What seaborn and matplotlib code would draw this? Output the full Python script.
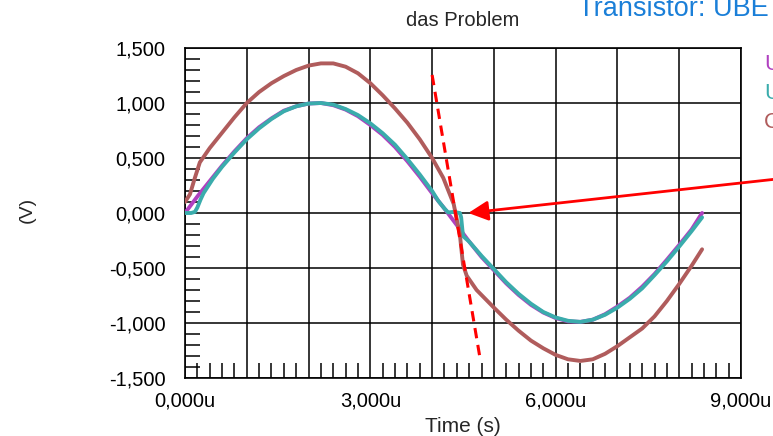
import numpy as np
import pandas as pd
import seaborn as sns
import matplotlib
matplotlib.use('Agg')
import matplotlib.pyplot as plt
from matplotlib.ticker import MultipleLocator, FuncFormatter

# time axis in units of 1000u (label "3,000u" == 3.0)
t_purple = [0.0, 0.2, 0.4, 0.6, 0.8, 1.0, 1.2, 1.4, 1.6, 1.8, 2.0, 2.2, 2.4, 2.6,
            2.8, 3.0, 3.2, 3.4, 3.6, 3.8, 4.0, 4.2, 4.4, 4.6, 4.8, 5.0, 5.2, 5.4,
            5.6, 5.8, 6.0, 6.2, 6.4, 6.6, 6.8, 7.0, 7.2, 7.4, 7.6, 7.8, 8.0, 8.2, 8.37]
v_purple = [0.0, 0.15, 0.29, 0.43, 0.56, 0.68, 0.78, 0.86, 0.93, 0.97, 0.995, 1.0,
            0.98, 0.94, 0.88, 0.80, 0.71, 0.60, 0.47, 0.33, 0.18, 0.04, -0.11, -0.26,
            -0.40, -0.52, -0.64, -0.745, -0.835, -0.905, -0.955, -0.985, -0.99, -0.97,
            -0.92, -0.85, -0.77, -0.67, -0.555, -0.425, -0.29, -0.15, 0.0]

t_teal = [0.0, 0.1, 0.16, 0.2, 0.25, 0.3, 0.45, 0.6, 0.8, 1.0, 1.2, 1.4, 1.6, 1.8,
          2.0, 2.2, 2.4, 2.6, 2.8, 3.0, 3.2, 3.4, 3.6, 3.8, 4.0, 4.1, 4.2, 4.26, 4.35,
          4.45, 4.47, 4.5, 4.6, 4.7, 4.8, 5.0, 5.2, 5.4, 5.6, 5.8, 6.0, 6.2, 6.4, 6.6,
          6.8, 7.0, 7.2, 7.4, 7.6, 7.8, 8.0, 8.2, 8.37]
v_teal = [0.0, 0.0, 0.01, 0.05, 0.12, 0.18, 0.31, 0.42, 0.55, 0.67, 0.77, 0.855,
          0.925, 0.97, 0.995, 1.0, 0.985, 0.945, 0.89, 0.815, 0.725, 0.62, 0.49, 0.35,
          0.2, 0.11, 0.04, 0.005, 0.01, 0.0, -0.04, -0.21, -0.26, -0.325, -0.39, -0.51,
          -0.63, -0.735, -0.825, -0.9, -0.95, -0.98, -0.99, -0.97, -0.925, -0.86,
          -0.78, -0.685, -0.565, -0.44, -0.305, -0.165, -0.04]

t_brown = [0.0, 0.08, 0.16, 0.24, 0.4, 0.6, 0.8, 1.0, 1.2, 1.4, 1.6, 1.8, 2.0, 2.2,
           2.4, 2.6, 2.8, 3.0, 3.2, 3.4, 3.6, 3.8, 4.0, 4.18, 4.35, 4.45, 4.5, 4.56,
           4.72, 5.0, 5.2, 5.4, 5.6, 5.8, 6.0, 6.2, 6.4, 6.6, 6.8, 7.0, 7.2, 7.4, 7.6,
           7.8, 8.0, 8.2, 8.37]
v_brown = [0.10, 0.17, 0.32, 0.46, 0.59, 0.73, 0.87, 1.0, 1.10, 1.18, 1.245, 1.30,
           1.34, 1.36, 1.36, 1.33, 1.27, 1.18, 1.07, 0.95, 0.82, 0.67, 0.50, 0.32,
           0.08, -0.2, -0.47, -0.57, -0.70, -0.86, -0.97, -1.07, -1.16, -1.23, -1.29,
           -1.33, -1.345, -1.33, -1.28, -1.21, -1.13, -1.05, -0.94, -0.80, -0.645,
           -0.48, -0.33]

legend_labels = ['UB', 'UBE', 'CE']
colors = ['#b040c0', '#3aacac', '#b05c5c']

# annotation line / arrow endpoints
dash_x = [4.0, 4.775]
dash_y = [1.255, -1.318]
arrow_tip = (4.586, 0.0)
arrow_tail = (9.63, 0.312)

sns.set_style('white')
plt.rcParams['font.family'] = ['Liberation Sans', 'DejaVu Sans']

fig = plt.figure(figsize=(7.73, 4.36), dpi=100)
ax = fig.add_axes([185/773, 1 - 378/436, (741-185)/773, (378-48)/436])

series = [(t_purple, v_purple), (t_teal, v_teal), (t_brown, v_brown)]
for (tt, vv), c in zip(series, colors):
    df = pd.DataFrame({'t': tt, 'v': vv})
    sns.lineplot(data=df, x='t', y='v', color=c, lw=2.8, sort=False,
                 estimator=None, ax=ax, zorder=3)

ax.plot(dash_x, dash_y, color='red', lw=2.2, ls='--', dashes=(3.4, 2.2), zorder=5)
ax.annotate('', xy=arrow_tip, xytext=arrow_tail, annotation_clip=False,
            arrowprops=dict(arrowstyle='-|>', color='red', lw=2,
                            mutation_scale=30, shrinkA=0, shrinkB=0), zorder=6)

ax.set_xlim(0, 9)
ax.set_ylim(-1.5, 1.5)
ax.xaxis.set_major_locator(MultipleLocator(1))
ax.xaxis.set_minor_locator(MultipleLocator(0.2))
ax.yaxis.set_major_locator(MultipleLocator(0.5))
ax.yaxis.set_minor_locator(MultipleLocator(0.1))
ax.xaxis.set_major_formatter(FuncFormatter(
    lambda v, p: ('%.3fu' % v).replace('.', ',') if round(v) % 3 == 0 else ''))
ax.yaxis.set_major_formatter(FuncFormatter(lambda v, p: ('%.3f' % v).replace('.', ',')))
ax.grid(True, which='major', color='black', lw=1.1)
ax.tick_params(which='major', length=0, labelsize=14.5, colors='black')
ax.tick_params(axis='y', which='major', pad=14)
ax.tick_params(axis='x', which='major', pad=10)
ax.tick_params(which='minor', direction='in', length=10.5, width=1.1, color='black',
               left=True, bottom=True, right=False, top=False)
for s in ax.spines.values():
    s.set_color('black')
    s.set_linewidth(1.2)

ax.set_xlabel('Time (s)', fontsize=15, labelpad=4.5)
ax.set_ylabel('')
ax.set_title('das Problem', fontsize=14.5, pad=16)
fig.text(27/773, 1 - 210/436, '(V)', rotation=90, ha='center', va='center', fontsize=14)
fig.text(578/773, 1 - 16/436, 'Transistor: UBE', color='#1a7fd8', fontsize=19.5,
         va='baseline', ha='left')
for i, (lab, c) in enumerate(zip(legend_labels, colors)):
    fig.text(764/773, 1 - (64 + 29.5*i)/436, lab, color=c, fontsize=16,
             ha='left', va='center')

fig.savefig('out.png', dpi=100)
